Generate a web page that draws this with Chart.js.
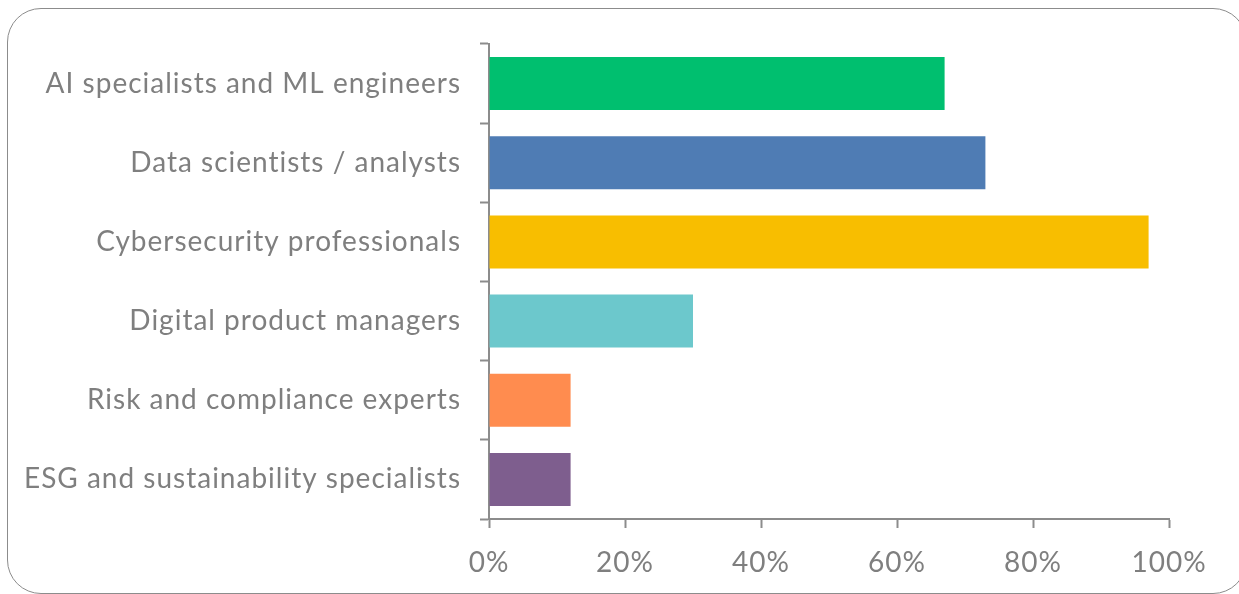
<!DOCTYPE html>
<html>
<head>
<meta charset="utf-8">
<script src="https://cdn.jsdelivr.net/npm/chart.js@4"></script>
<style>
  html, body { margin: 0; padding: 0; background: #fff; overflow: hidden; }
  #wrap { position: relative; width: 1239px; height: 594px; }
  #frame {
    position: absolute; left: 7px; top: 8px; width: 1240px; height: 586px;
    border: 1.5px solid #8c8c8c; border-radius: 34px; box-sizing: border-box;
  }
  canvas { position: absolute; left: 0; top: 0; }
</style>
</head>
<body>
<div id="wrap">
  <div id="frame"></div>
  <canvas id="myChart" width="1239" height="594"></canvas>
</div>
<script>
// roles and share of respondents (%)
const roles = [
  'AI specialists and ML engineers',
  'Data scientists / analysts',
  'Cybersecurity professionals',
  'Digital product managers',
  'Risk and compliance experts',
  'ESG and sustainability specialists'
];
const shares = [67, 73, 97, 30, 12, 12];
const barColors = ['#00BF6F', '#4F7CB4', '#F8BE00', '#6CC8CC', '#FF8C4F', '#7E5E8E'];
const xTicks = [0, 20, 40, 60, 80, 100];

const axisGray = '#8c8c8c';
const labelGray = '#7f7f7f';
const font = { family: 'Lato', size: 28 };

// slightly looser tracking on the axis labels
const spacing = {
  id: 'spacing',
  beforeDraw(chart) { chart.ctx.letterSpacing = '1px'; }
};

const ctx = document.getElementById('myChart').getContext('2d');
const myChart = new Chart(ctx, {
  type: 'bar',
  data: {
    labels: roles,
    datasets: [{
      data: shares,
      backgroundColor: barColors,
      borderWidth: 0,
      barPercentage: 0.67,
      categoryPercentage: 1
    }]
  },
  plugins: [spacing],
  options: {
    indexAxis: 'y',
    responsive: false,
    animation: false,
    layout: { padding: { top: 44, right: 70, left: 0, bottom: 0 } },
    plugins: {
      legend: { display: false },
      tooltip: { enabled: false }
    },
    scales: {
      y: {
        z: 1,
        offset: true,
        grid: {
          offset: true,
          drawOnChartArea: false,
          tickLength: 9,
          tickWidth: 2,
          color: axisGray
        },
        border: { color: axisGray, width: 2 },
        ticks: { color: labelGray, font: font, padding: 19 },
        afterFit: (scale) => { scale.width = 489; }
      },
      x: {
        z: 1,
        min: 0,
        max: 100,
        afterBuildTicks: (scale) => { scale.ticks = xTicks.map(v => ({ value: v })); },
        grid: {
          drawOnChartArea: false,
          tickLength: 9,
          tickWidth: 2,
          color: axisGray
        },
        border: { color: axisGray, width: 2 },
        ticks: {
          color: labelGray,
          font: font,
          padding: 18,
          maxRotation: 0,
          callback: (v) => v + '%'
        },
        afterFit: (scale) => { scale.height = 75; }
      }
    }
  }
});
</script>
</body>
</html>
